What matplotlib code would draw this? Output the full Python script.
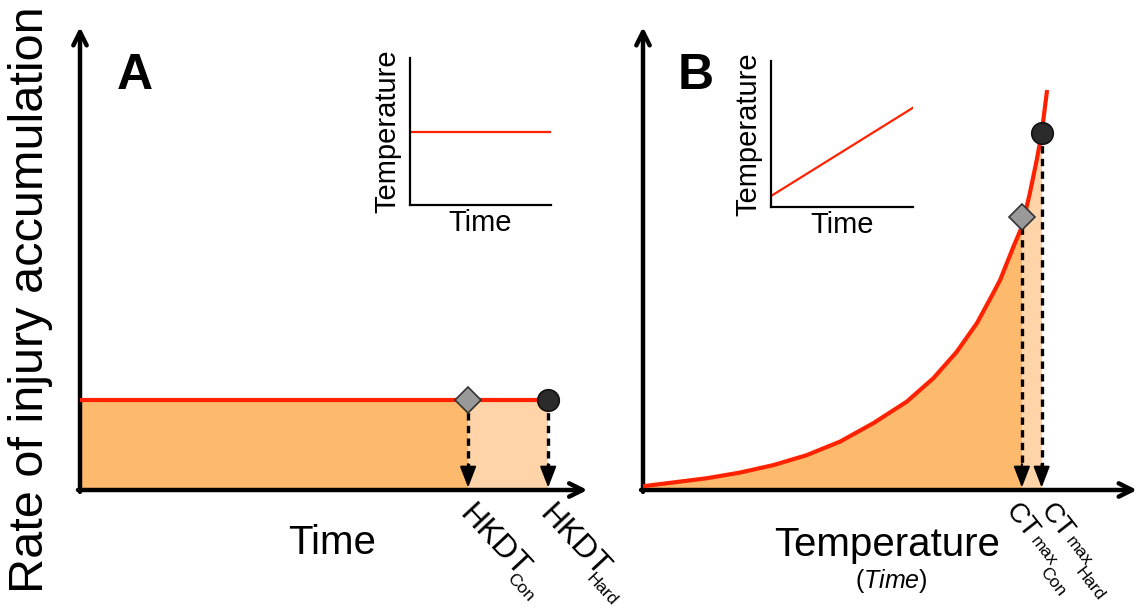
import numpy as np
import matplotlib
matplotlib.use("Agg")
import matplotlib.pyplot as plt

plt.rcParams["font.family"] = ["Liberation Sans", "DejaVu Sans"]
plt.rcParams["mathtext.fontset"] = "custom"
plt.rcParams["mathtext.rm"] = "Liberation Sans"
plt.rcParams["mathtext.it"] = "Liberation Sans:italic"

# panel A: constant rate of injury over time
rate_a = 19.1
hkdt_con, hkdt_hard = 76.1, 91.8
hkdt_subs = ["Con", "Hard"]

# panel B: rate rising with temperature
temp_b = [0.0, 6.1, 12.9, 19.6, 26.4, 33.1, 39.9, 46.6, 53.4, 58.8, 63.5,
          67.6, 70.9, 72.3, 75.0, 76.7, 78.3, 79.7, 80.7, 81.8]
rate_b = [0.8, 1.6, 2.5, 3.7, 5.3, 7.4, 10.3, 14.2, 18.8, 23.8, 29.4,
          35.5, 41.9, 44.7, 51.8, 56.0, 63.1, 70.2, 75.9, 85.1]
i_con, i_hard = 15, 18  # CTmax positions in the lists above
ct_subs = ["Con", "Hard"]

# insets: temperature vs time
inset_t = [0, 1]
inset_a_temp = [0.5, 0.5]
inset_b_temp = [0.075, 0.68]

RED = "#ff2200"
DARK = "#fdba6c"
LIGHT = "#fed4a8"

W, H = 1137, 610
fig = plt.figure(figsize=(W / 100, H / 100), dpi=100)


def px_axes(x0, y0, x1, y1):
    # axes from pixel box (top-left origin)
    return fig.add_axes([x0 / W, 1 - y1 / H, (x1 - x0) / W, (y1 - y0) / H])


def frame(ax, xtip, ytip):
    ax.set_xlim(0, 100)
    ax.set_ylim(0, 100)
    ax.axis("off")
    arr = dict(arrowstyle="->", lw=3.2, color="k", mutation_scale=24,
               shrinkA=0, shrinkB=0)
    ax.annotate("", xy=(xtip, 0), xytext=(-0.4, 0), arrowprops=arr,
                annotation_clip=False)
    ax.annotate("", xy=(0, ytip), xytext=(0, -0.4), arrowprops=arr,
                annotation_clip=False)


def drop(ax, x, y):
    ax.plot([x, x], [y, 5], color="k", lw=2.4, ls=(0, (2.2, 1.6)),
            zorder=4, clip_on=False)
    ax.annotate("", xy=(x, 0.5), xytext=(x, 5.5),
                arrowprops=dict(arrowstyle="-|>,head_length=0.65,head_width=0.25",
                                mutation_scale=20, color="k", lw=1.5,
                                shrinkA=0, shrinkB=0), zorder=4)


def markers(ax, xc, yc, xh, yh):
    ax.plot(xc, yc, marker="D", ms=13.5, mfc="#999999", mec="#333333",
            mew=1.2, zorder=6, clip_on=False)
    ax.plot(xh, yh, marker="o", ms=15.5, mfc="#2b2b2b", mec="#111111",
            mew=1.2, zorder=6, clip_on=False)


def slanted(ax, x, pieces, rot, ox, oy):
    # pieces: (text, size, along, drop) in points, laid out along the rotated baseline
    r = np.radians(rot)
    for txt, size, a, p in pieces:
        dx = ox + a * np.cos(r) + p * np.sin(r)
        dy = oy + a * np.sin(r) - p * np.cos(r)
        ax.annotate(txt, xy=(x, 0), xytext=(dx, dy), textcoords="offset points",
                    fontsize=size, rotation=rot, rotation_mode="anchor",
                    ha="left", va="top", annotation_clip=False)


def inset(ax, y):
    ax.plot(inset_t, y, color=RED, lw=1.6)
    ax.set_xlim(0, 1)
    ax.set_ylim(0, 1)
    ax.set_xticks([])
    ax.set_yticks([])
    for s in ("top", "right"):
        ax.spines[s].set_visible(False)
    for s in ("left", "bottom"):
        ax.spines[s].set_linewidth(1.6)
    ax.set_xlabel("Time", fontsize=21, labelpad=3)
    ax.set_ylabel("Temperature", fontsize=21, labelpad=6)
    ax.patch.set_alpha(0)


# ---- panel A
axA = px_axes(80, 20, 590, 490)
frame(axA, 99.5, 98.5)
axA.fill_between([0, hkdt_con], 0, rate_a, color=DARK, lw=0, zorder=1)
axA.fill_between([hkdt_con, hkdt_hard], 0, rate_a, color=LIGHT, lw=0, zorder=1)
axA.plot([0, hkdt_hard], [rate_a, rate_a], color=RED, lw=3, zorder=3)
drop(axA, hkdt_con, rate_a)
drop(axA, hkdt_hard, rate_a)
markers(axA, hkdt_con, rate_a, hkdt_hard, rate_a)
axA.text(10.8, 88, "A", fontsize=36, fontweight="bold", ha="center", va="center")
axA.text(49.4, -11.3, "Time", fontsize=29, ha="center", va="center")
for x, sub in zip((hkdt_con, hkdt_hard), hkdt_subs):
    slanted(axA, x, [("HKDT", 23, 0, 0), (sub, 12.5, 57, 14)], -47, 5, -7)

# ---- panel B
axB = px_axes(643, 20, 1137, 490)
frame(axB, 100, 98.5)
tb = np.array(temp_b)
rb = np.array(rate_b)
axB.fill_between(tb[:i_con + 1], 0, rb[:i_con + 1], color=DARK, lw=0, zorder=1)
axB.fill_between(tb[i_con:i_hard + 1], 0, rb[i_con:i_hard + 1], color=LIGHT,
                 lw=0, zorder=1)
axB.plot(tb, rb, color=RED, lw=3, zorder=3, solid_capstyle="butt")
drop(axB, tb[i_con], rb[i_con])
drop(axB, tb[i_hard], rb[i_hard])
markers(axB, tb[i_con], rb[i_con] + 2, tb[i_hard], rb[i_hard])
axB.text(10.7, 88, "B", fontsize=36, fontweight="bold", ha="center", va="center")
axB.text(49.4, -11.6, "Temperature", fontsize=29, ha="center", va="center")
axB.text(50.2, -19.4, r"($\mathit{Time}$)", fontsize=18, ha="center", va="center")
for x, sub, ox in zip((tb[i_con], tb[i_hard]), ct_subs, (-1, 10)):
    slanted(axB, x, [("CT", 20, 0, 0), ("max", 12.5, 28, 5),
                     (sub, 12.5, 50, 13)], -52, ox, -6)

# ---- insets
insA = px_axes(410, 58, 551, 205)
inset(insA, inset_a_temp)
insB = px_axes(771, 61, 913, 207)
inset(insB, inset_b_temp)

fig.text(31 / W, 1 - 300 / H, "Rate of injury accumulation", fontsize=35,
         rotation=90, ha="center", va="center")

fig.savefig("out.png", dpi=100)
